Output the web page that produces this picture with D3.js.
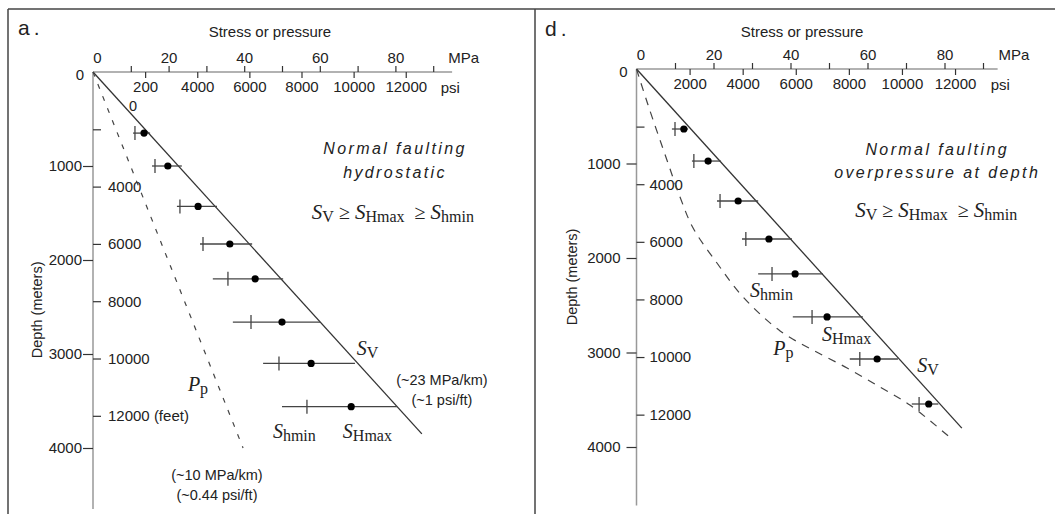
<!DOCTYPE html>
<html><head><meta charset="utf-8">
<script src="https://cdn.jsdelivr.net/npm/d3@7"></script>
<style>body{margin:0;background:#fff}svg{display:block}</style>
</head><body>
<svg id="chart" width="1055" height="514"></svg>
<script>
// ---------- tick definitions ----------
const mpaTicks = [10, 20, 30, 40, 50, 60, 70, 80, 90];
const mpaLabels = [0, 20, 40, 60, 80];
const psiTicks = [2000, 4000, 6000, 8000, 10000, 12000];
const psiLabelsA = ["200", "4000", "6000", "8000", "10000", "12000"];
const psiLabelsD = ["2000", "4000", "6000", "8000", "10000", "12000"];
const depthTicksM = [0, 1000, 2000, 3000, 4000];
const depthTicksFt = [2000, 4000, 6000, 8000, 10000, 12000];
const ftLabelsA = ["", "4000", "6000", "8000", "10000", "12000 (feet)"];
const ftLabelsD = ["", "4000", "6000", "8000", "10000", "12000"];

// ---------- panel a: hydrostatic ----------
const depthA  = [650, 1000, 1430, 1830, 2200, 2660, 3100, 3560];
const shminA  = [11.1, 16.4, 23.0, 29.1, 35.7, 41.8, 49.2, 56.6];
const shmaxA  = [13.5, 19.8, 27.8, 36.2, 42.9, 50.0, 57.7, 68.3];
const lowA    = [10.6, 15.6, 22.2, 28.3, 31.7, 37.0, 45.0, 50.0];
const highA   = [15.1, 23.5, 32.8, 42.1, 50.3, 60.1, 69.3, 80.4];
const svStressA = [0, 87.0];
const svDepthA  = [0, 3850];
const ppStressA = [0, 39.7];
const ppDepthA  = [0, 4000];

// ---------- panel d: overpressure at depth ----------
const depthD  = [635, 974, 1397, 1799, 2169, 2624, 3069, 3545];
const shminD  = [10.0, 14.9, 21.7, 28.4, 35.2, 45.6, 58.0, 73.4];
const shmaxD  = [12.3, 18.6, 26.4, 34.4, 41.2, 49.5, 62.5, 75.9];
const lowD    = [9.2, 14.4, 20.9, 27.4, 31.6, 40.6, 55.4, 71.5];
const highD   = [13.4, 21.9, 31.6, 40.4, 48.4, 58.8, 67.9, 78.4];
const svStressD = [0, 84.5];
const svDepthD  = [0, 3800];
const ppStressD = [0, 3.0, 7.9, 11.3, 14.7, 20.9, 27.7, 37.3, 45.8, 54.7, 63.2, 71.0, 82.2];
const ppDepthD  = [0, 381, 963, 1354, 1683, 2053, 2413, 2772, 2974, 3164, 3365, 3556, 3926];

const PSI_TO_MPA = 0.00689476;
const FT_TO_M = 0.3048;

const svg = d3.select("#chart");
const SANS = "'Liberation Sans', Arial, sans-serif";
const SERIF = "'Liberation Serif', 'Times New Roman', serif";
const TXT = "#222";
const FS = 15;

// frame
svg.append("line").attr("x1", 8).attr("x2", 1055).attr("y1", 9).attr("y2", 9).attr("stroke", "#444").attr("stroke-width", 1.5);
svg.append("line").attr("x1", 8).attr("x2", 8).attr("y1", 9).attr("y2", 514).attr("stroke", "#444").attr("stroke-width", 1.5);
svg.append("line").attr("x1", 535).attr("x2", 535).attr("y1", 9).attr("y2", 514).attr("stroke", "#444").attr("stroke-width", 1.5);

const panels = [
  {
    letter: "a.", letterPos: [18, 35],
    xr: [93, 471], yr: [72, 448], axisEndX: 95, axisEndY: 4650,
    psiLabels: psiLabelsA, ftLabels: ftLabelsA, mPad: 1, ftPad: 7,
    depth: depthA, shmin: shminA, shmax: shmaxA, low: lowA, high: highA,
    svS: svStressA, svD: svDepthA, ppS: ppStressA, ppD: ppDepthA,
    ppDash: "5,8", titleX: 46.8, depthLabel: [-56, 2530],
    lines: ["Normal faulting", "hydrostatic"], titlePos: [79.9, 872, 1128],
    formula: [57.9, 1564],
    labels: [
      {t: "0", x: 10.6, y: 415, plain: true},
      {S: "S", sub: "V", x: 69.8, y: 3011},
      {S: "S", sub: "hmin", x: 47.6, y: 3894},
      {S: "S", sub: "Hmax", x: 66.1, y: 3894},
      {S: "P", sub: "p", x: 25.1, y: 3394},
      {t: "(~23 MPa/km)", x: 92.3, y: 3330, mid: true},
      {t: "(~1 psi/ft)", x: 92.3, y: 3543, mid: true},
      {t: "(~10 MPa/km)", x: 32.8, y: 4340, mid: true},
      {t: "(~0.44 psi/ft)", x: 32.8, y: 4553, mid: true}
    ]
  },
  {
    letter: "d.", letterPos: [545, 36],
    xr: [636.5, 1021.5], yr: [69, 447], axisEndX: 93.8, axisEndY: 4620,
    psiLabels: psiLabelsD, ftLabels: ftLabelsD, mPad: 6, ftPad: 5,
    depth: depthD, shmin: shminD, shmax: shmaxD, low: lowD, high: highD,
    svS: svStressD, svD: svDepthD, ppS: ppStressD, ppD: ppDepthD,
    ppDash: "8,7", titleX: 43, depthLabel: [-65, 2200],
    lines: ["Normal faulting", "overpressure at depth"], titlePos: [78.1, 910, 1153],
    formula: [56.8, 1566],
    labels: [
      {S: "S", sub: "hmin", x: 29.5, y: 2413},
      {S: "S", sub: "Hmax", x: 48.2, y: 2878},
      {S: "P", sub: "p", x: 35.5, y: 3026},
      {S: "S", sub: "V", x: 72.9, y: 3206}
    ]
  }
];

function styleAxis(g, fs) {
  g.select(".domain").remove();
  g.selectAll(".tick line").attr("stroke", "#333").attr("stroke-width", 1.2);
  g.selectAll(".tick text").attr("fill", TXT).attr("font-family", SANS).attr("font-size", fs);
}

function symLabel(g, x, y, S, sub, sSize, subSize) {
  const t = g.append("text").attr("x", x).attr("y", y).attr("font-family", SERIF).attr("fill", TXT);
  t.append("tspan").attr("font-style", "italic").attr("font-size", sSize).text(S);
  t.append("tspan").attr("font-size", subSize).attr("dy", 3).text(sub);
  return t;
}

panels.forEach(p => {
  const x = d3.scaleLinear().domain([0, 100]).range(p.xr);
  const y = d3.scaleLinear().domain([0, 4000]).range(p.yr);
  const g = svg.append("g");

  // panel letter
  g.append("text").attr("x", p.letterPos[0]).attr("y", p.letterPos[1])
    .attr("font-family", SANS).attr("font-size", 21).attr("letter-spacing", 4).attr("fill", TXT).text(p.letter);

  // axis lines
  g.append("line").attr("x1", x(0)).attr("x2", x(p.axisEndX)).attr("y1", y(0)).attr("y2", y(0))
    .attr("stroke", "#999").attr("stroke-width", 1.5);
  g.append("line").attr("x1", x(0)).attr("x2", x(0)).attr("y1", y(0)).attr("y2", y(p.axisEndY))
    .attr("stroke", "#999").attr("stroke-width", 1.5);

  // MPa axis (top)
  const gm = g.append("g").attr("transform", `translate(0,${y(0)})`)
    .call(d3.axisTop(x).tickValues([0, ...mpaTicks]).tickSize(6).tickPadding(3)
      .tickFormat(d => mpaLabels.includes(d) ? d : ""));
  styleAxis(gm, FS);
  gm.selectAll(".tick").filter(d => d === 0).select("line").remove();
  gm.selectAll(".tick").filter(d => d === 0).select("text").attr("dx", 4);

  // psi axis (below)
  const gp = g.append("g").attr("transform", `translate(0,${y(0)})`)
    .call(d3.axisBottom(x).tickValues(psiTicks.map(v => v * PSI_TO_MPA)).tickSize(6).tickPadding(3)
      .tickFormat((d, i) => p.psiLabels[i]));
  styleAxis(gp, FS);

  g.append("text").attr("x", x(94)).attr("y", y(0) - 9).attr("font-family", SANS).attr("font-size", FS).attr("fill", TXT).text("MPa");
  g.append("text").attr("x", x(92)).attr("y", y(0) + 21).attr("font-family", SANS).attr("font-size", FS).attr("fill", TXT).text("psi");
  g.append("text").attr("x", x(p.titleX)).attr("y", 37).attr("text-anchor", "middle")
    .attr("font-family", SANS).attr("font-size", 15).attr("fill", TXT).text("Stress or pressure");

  // depth axes
  const gl = g.append("g").attr("transform", `translate(${x(0)},0)`)
    .call(d3.axisLeft(y).tickValues(depthTicksM).tickSize(10).tickPadding(p.mPad).tickFormat(d => d));
  styleAxis(gl, FS);
  gl.selectAll(".tick").filter(d => d === 0).select("line").remove();
  gl.selectAll(".tick").filter(d => d === 0).select("text").attr("x", -9).attr("dy", "0.5em");

  const gr = g.append("g").attr("transform", `translate(${x(0)},0)`)
    .call(d3.axisRight(y).tickValues(depthTicksFt.map(v => v * FT_TO_M)).tickSize(8).tickPadding(p.ftPad)
      .tickFormat((d, i) => p.ftLabels[i]));
  styleAxis(gr, FS);

  g.append("text").attr("transform", `translate(${x(0) + p.depthLabel[0]},${y(p.depthLabel[1])}) rotate(-90)`)
    .attr("text-anchor", "middle").attr("dy", "0.35em").attr("font-family", SANS).attr("font-size", 14.5).attr("fill", TXT)
    .text("Depth (meters)");

  // Sv line
  const line = d3.line().x(d => x(d[0])).y(d => y(d[1]));
  g.append("path").datum(p.svS.map((s, i) => [s, p.svD[i]])).attr("d", line)
    .attr("fill", "none").attr("stroke", "#333").attr("stroke-width", 1.3);
  // Pp line
  const ppLine = d3.line().x(d => x(d[0])).y(d => y(d[1])).curve(d3.curveCatmullRom.alpha(0.5));
  g.append("path").datum(p.ppS.map((s, i) => [s, p.ppD[i]])).attr("d", ppLine)
    .attr("fill", "none").attr("stroke", "#444").attr("stroke-width", 1.2).attr("stroke-dasharray", p.ppDash);

  // ranges, Shmin crosses, SHmax dots
  p.depth.forEach((dp, i) => {
    g.append("line").attr("x1", x(p.low[i])).attr("x2", x(p.high[i])).attr("y1", y(dp)).attr("y2", y(dp))
      .attr("stroke", "#444").attr("stroke-width", 1.3);
    g.append("line").attr("x1", x(p.shmin[i])).attr("x2", x(p.shmin[i])).attr("y1", y(dp) - 7).attr("y2", y(dp) + 7)
      .attr("stroke", "#444").attr("stroke-width", 1.3);
    g.append("circle").attr("cx", x(p.shmax[i])).attr("cy", y(dp)).attr("r", 3.6).attr("fill", "#000");
  });

  // title
  p.lines.forEach((l, i) => {
    g.append("text").attr("x", x(p.titlePos[0])).attr("y", y(p.titlePos[i + 1])).attr("text-anchor", "middle")
      .attr("font-family", SANS).attr("font-style", "italic").attr("font-size", 16).attr("letter-spacing", 2.4)
      .attr("fill", TXT).text(l);
  });
  // formula
  const f = g.append("text").attr("x", x(p.formula[0])).attr("y", y(p.formula[1])).attr("font-family", SERIF).attr("fill", TXT);
  f.append("tspan").attr("font-style", "italic").attr("font-size", 21).text("S");
  f.append("tspan").attr("font-size", 16).attr("dy", 3).text("V");
  f.append("tspan").attr("font-size", 20).attr("dy", -3).text(" \u2265 ");
  f.append("tspan").attr("font-style", "italic").attr("font-size", 21).text("S");
  f.append("tspan").attr("font-size", 16).attr("dy", 3).text("Hmax");
  f.append("tspan").attr("font-size", 20).attr("dy", -3).text("\u00a0 \u2265 ");
  f.append("tspan").attr("font-style", "italic").attr("font-size", 21).text("S");
  f.append("tspan").attr("font-size", 16).attr("dy", 3).text("hmin");

  // annotations
  p.labels.forEach(l => {
    if (l.S) {
      symLabel(g, x(l.x), y(l.y), l.S, l.sub, 20, 16);
    } else {
      g.append("text").attr("x", x(l.x)).attr("y", y(l.y)).attr("text-anchor", (l.mid || l.plain) ? "middle" : "start")
        .attr("font-family", SANS).attr("font-size", 14.5).attr("fill", TXT).text(l.t);
    }
  });
});
</script>
</body></html>
